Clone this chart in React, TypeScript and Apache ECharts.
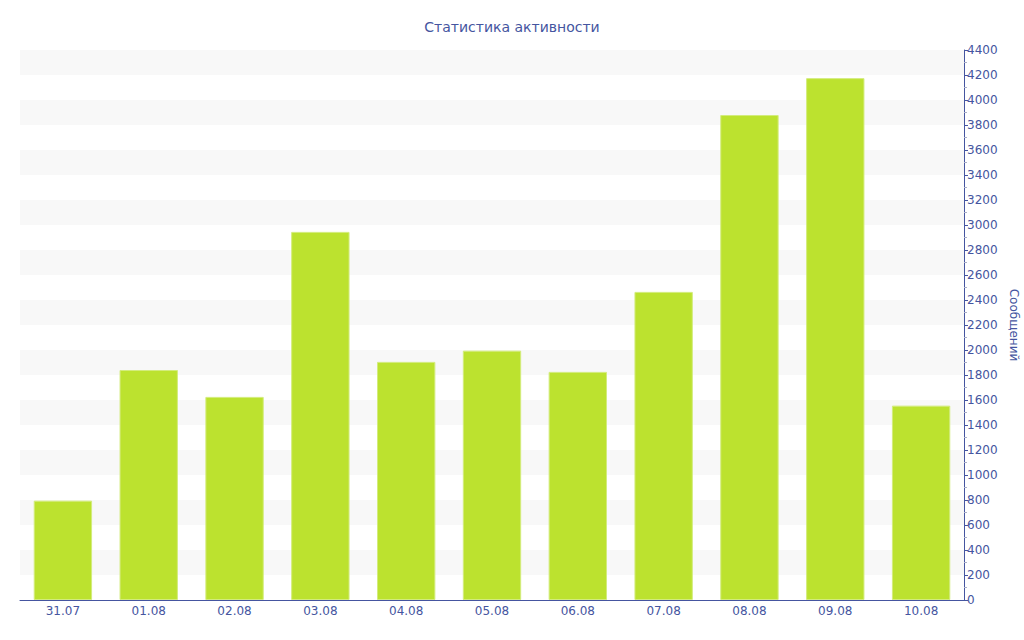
import React, { useEffect, useRef } from "react";
import * as echarts from "echarts";

const categories = ["31.07", "01.08", "02.08", "03.08", "04.08", "05.08", "06.08", "07.08", "08.08", "09.08", "10.08"];
const messages = [795, 1840, 1625, 2945, 1905, 1995, 1825, 2465, 3880, 4175, 1555];
const titleText = "Статистика активности";
const yName = "Сообщений";

const TEXT = "#4555a0";
const FONT = "DejaVu Sans";

export default function App() {
  const ref = useRef<HTMLDivElement>(null);
  useEffect(() => {
    const chart = echarts.init(ref.current!, undefined, { renderer: "svg" });
    chart.setOption({
      animation: false,
      backgroundColor: "#ffffff",
      title: {
        text: titleText,
        left: "center",
        top: 15,
        textStyle: { color: TEXT, fontFamily: FONT, fontSize: 14, fontWeight: "normal" },
      },
      grid: { left: 20, right: 60, top: 50, bottom: 40, containLabel: false, outerBoundsMode: "none" },
      xAxis: {
        type: "category",
        data: categories,
        axisLine: { lineStyle: { color: TEXT, width: 1 } },
        axisTick: { alignWithLabel: true, length: 3, lineStyle: { color: TEXT } },
        axisLabel: { color: TEXT, fontFamily: FONT, fontSize: 12, margin: 5 },
      },
      yAxis: {
        type: "value",
        position: "right",
        min: 0,
        max: 4400,
        interval: 200,
        name: yName,
        nameLocation: "middle",
        nameRotate: -90,
        nameGap: 44,
        nameTextStyle: { color: TEXT, fontFamily: FONT, fontSize: 12 },
        axisLine: { show: true, lineStyle: { color: TEXT, width: 1 } },
        axisTick: { show: true, length: 4, lineStyle: { color: TEXT } },
        minorTick: { show: true, splitNumber: 2, length: 3, lineStyle: { color: "#a8aec8" } },
        axisLabel: { color: TEXT, fontFamily: FONT, fontSize: 12, margin: 3, formatter: (v: number) => String(v) },
        splitLine: { show: false },
        splitArea: { show: true, areaStyle: { color: ["rgba(255,255,255,0)", "#f8f8f8"] } },
      },
      series: [
        {
          type: "bar",
          data: messages,
          barWidth: "68%",
          itemStyle: { color: "#bce22f", borderColor: "#d3ec7c", borderWidth: 1 },
        },
      ],
    });
    return () => chart.dispose();
  }, []);
  return <div ref={ref} style={{ position: "fixed", left: 0, top: 0, width: 1024, height: 640 }} />;
}
